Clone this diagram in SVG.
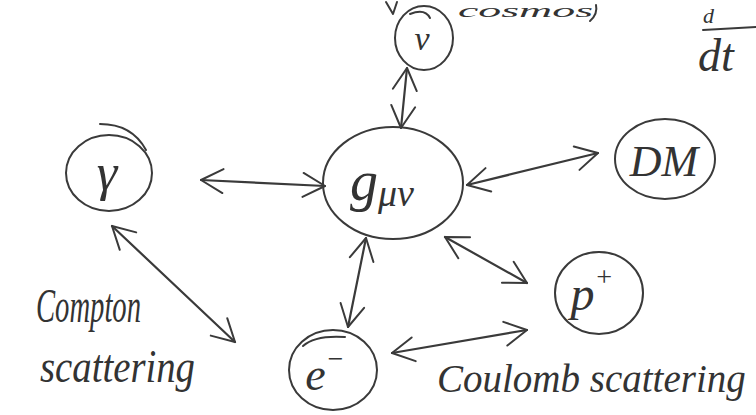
<svg xmlns="http://www.w3.org/2000/svg" width="756" height="415" viewBox="0 0 756 415">
<defs>
<style>
.n{fill:none;stroke:#3a3a3a;stroke-width:2;stroke-linecap:round;stroke-linejoin:round}
.c{fill:none;stroke:#3a3a3a;stroke-width:2.2;stroke-linecap:round;stroke-linejoin:round}
.t{font-family:"Liberation Serif","DejaVu Serif",serif;font-style:italic;fill:#333}
</style>
<marker id="h" viewBox="-26 -14 30 28" markerWidth="30" markerHeight="28" refX="0" refY="0" orient="auto-start-reverse" markerUnits="userSpaceOnUse">
<path d="M-22,-12 L0,0 L-22,12" fill="none" stroke="#3a3a3a" stroke-width="2" stroke-linecap="round" stroke-linejoin="round"/>
</marker>
</defs>
<rect width="756" height="415" fill="#ffffff"/>
<g id="fragments">
<path class="n" d="M386,2 L393,14 L397,2"/>
<text class="t" x="458" y="17" font-size="18" textLength="135" lengthAdjust="spacingAndGlyphs">cosmos</text>
<path class="n" d="M596,5 Q598,14 590,21"/>
<text class="t" x="703" y="23" font-size="22">d</text>
<path class="n" d="M703,30 L756,27"/>
<text class="t" x="698" y="71" font-size="46">dt</text>
</g>
<g id="node-nu">
<ellipse class="n" cx="424" cy="38" rx="29" ry="32"/>
<path class="n" d="M410,14 Q425,8 430,18"/>
<text class="t" x="422" y="50" font-size="34" text-anchor="middle">ν</text>
</g>
<g id="node-g">
<ellipse class="n" cx="393" cy="183" rx="70" ry="56"/>
<text class="t" x="350" y="200" font-size="56">g<tspan font-size="38" dy="6">μν</tspan></text>
</g>
<g id="node-gamma">
<ellipse class="n" cx="109" cy="173" rx="43" ry="38"/>
<path class="n" d="M100,124 Q132,124 146,150"/>
<text class="t" x="107" y="190" font-size="52" text-anchor="middle">γ</text>
</g>
<g id="node-DM">
<ellipse class="n" cx="665" cy="159" rx="50" ry="40"/>
<text class="t" x="664" y="176" font-size="44" text-anchor="middle">DM</text>
</g>
<g id="node-p">
<ellipse class="n" cx="599" cy="293" rx="44" ry="41"/>
<text class="t" x="592" y="310" font-size="48" text-anchor="middle">p<tspan font-size="28" dy="-24">+</tspan></text>
</g>
<g id="node-e">
<ellipse class="n" cx="333" cy="370" rx="44" ry="40"/>
<path class="n" d="M303,346 Q315,335 345,337"/>
<text class="t" x="325" y="390" font-size="46" text-anchor="middle">e<tspan font-size="28" dy="-22">−</tspan></text>
</g>
<g id="connectors">
<path class="c" d="M407,68 L401,128" marker-start="url(#h)" marker-end="url(#h)"/>
<path class="c" d="M201,180 L325,186" marker-start="url(#h)" marker-end="url(#h)"/>
<path class="c" d="M467,185 L598,153" marker-start="url(#h)" marker-end="url(#h)"/>
<path class="c" d="M445,237 L527,283" marker-start="url(#h)" marker-end="url(#h)"/>
<path class="c" d="M366,238 L348,327" marker-start="url(#h)" marker-end="url(#h)"/>
<path class="c" d="M112,226 L235,342" marker-start="url(#h)" marker-end="url(#h)"/>
<path class="c" d="M392,353 L527,330" marker-start="url(#h)" marker-end="url(#h)"/>
</g>
<g id="labels">
<text class="t" x="36" y="322" font-size="48" textLength="105" lengthAdjust="spacingAndGlyphs">Compton</text>
<text class="t" x="40" y="382" font-size="46" textLength="155" lengthAdjust="spacingAndGlyphs">scattering</text>
<text class="t" x="437" y="392" font-size="39">Coulomb scattering</text>
</g>
</svg>
